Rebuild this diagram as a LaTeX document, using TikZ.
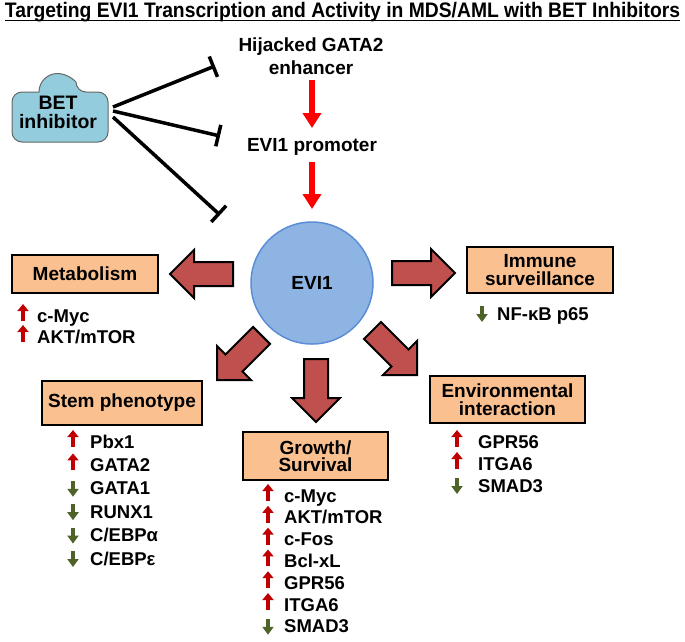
\documentclass[tikz,border=0pt]{standalone}
\usepackage{fontspec}
\setmainfont{Liberation Sans}
\usetikzlibrary{arrows.meta}
\definecolor{boxfill}{HTML}{FAC090}
\definecolor{arrred}{HTML}{C0504D}
\definecolor{evifill}{HTML}{8EB4E3}
\definecolor{evidraw}{HTML}{5B8ED6}
\definecolor{cloudfill}{HTML}{93CDDD}
\definecolor{upred}{HTML}{C00000}
\definecolor{downgreen}{HTML}{4F6228}
\newcommand\geneup[5]{\node[item] (#1) at (#3,-#4) {#5};
  \draw[uparr] (#2,{-(#4)+1}) -- (#2,{-(#4)+18});}
\newcommand\genedown[5]{\node[item] (#1) at (#3,-#4) {#5};
  \draw[downarr] (#2,{-(#4)+14}) -- (#2,{-(#4)-2});}
\begin{document}
\begin{tikzpicture}[x=1pt,y=1pt,
  txt/.style={font=\bfseries\fontsize{19}{23}\selectfont, inner sep=0pt, align=center},
  item/.style={font=\bfseries\fontsize{18.5}{22}\selectfont, inner sep=0pt, anchor=base west},
  catbox/.style={draw=black, line width=2.2pt, fill=boxfill, inner sep=0pt, align=center,
    font=\bfseries\fontsize{19}{17.5}\selectfont},
  redarr/.style={draw=red, line width=6pt, -{Triangle[width=18pt,length=15pt]}},
  inh/.style={line width=3.5pt, -{Bar[width=22pt]}},
  uparr/.style={draw=upred, line width=3.2pt, -{Triangle[width=11pt,length=7pt]}},
  downarr/.style={draw=downgreen, line width=3.2pt, -{Triangle[width=11pt,length=8pt]}},
  bigarrow/.pic={\filldraw[fill=arrred, draw=black, line width=2pt, line join=miter]
    (0,0) -- (-24,24) -- (-24,12) -- (-63,12) -- (-63,-12) -- (-24,-12) -- (-24,-24) -- cycle;}
]
\useasboundingbox (0,0) rectangle (685,-641);

% title
\node[font=\bfseries\fontsize{21}{24}\selectfont, inner sep=0pt, anchor=base] (title) at (342.5,-17)
  {\resizebox{675pt}{\height}{Targeting EVI1 Transcription and Activity in MDS/AML with BET Inhibitors}};
\draw[line width=1.5pt] (title.west |- 0,-20.5) -- (title.east |- 0,-20.5);

% BET inhibitor cloud
\filldraw[fill=cloudfill, draw=black!60, line width=1pt]
  (39,-92) [rounded corners=10] -- (12,-92) -- (12,-142) -- (108,-142) -- (108,-92) -- (76,-92)
  [sharp corners] arc[start angle=0, end angle=180, radius=18.5] -- cycle;
\node[txt, font=\bfseries\fontsize{19.5}{19}\selectfont] (bet) at (58,-112) {BET\\inhibitor};

% pathway
\node[txt] (hij) at (311,-56) {Hijacked GATA2\\enhancer};
\node[txt] (prom) at (312,-147) {EVI1 promoter};
\node[circle, fill=evifill, draw=evidraw, line width=1.5pt, minimum size=122pt, inner sep=0pt,
  font=\bfseries\fontsize{19}{23}\selectfont] (evi) at (312,-283) {EVI1};
\draw[redarr] (prom.north |- 0,-80) -- (prom.north |- 0,-128);
\draw[redarr] (prom.south |- 0,-162) -- (evi.north |- 0,-209);

% inhibition
\coordinate (s1) at (113,-107);
\coordinate (s2) at (113,-111);
\coordinate (s3) at (113,-117);
\coordinate (t1) at (215,-66);
\coordinate (t2) at (220,-136);
\coordinate (t3) at (220,-215);
\draw[inh] (s1) -- (t1);
\draw[inh] (s2) -- (t2);
\draw[inh] (s3) -- (t3);

% category boxes
\node[catbox, minimum width=146pt, minimum height=38pt] (met) at (85,-274) {Metabolism};
\node[catbox, minimum width=146pt, minimum height=46pt] (imm) at (540,-270) {Immune\\surveillance};
\node[catbox, minimum width=160pt, minimum height=44pt] (stem) at (122,-403) {Stem phenotype};
\node[catbox, minimum width=145pt, minimum height=48pt] (grow) at (315.5,-456) {Growth/\\Survival};
\node[catbox, minimum width=155pt, minimum height=47pt] (env) at (507.5,-399.5) {Environmental\\interaction};

% big arrows
\pic[rotate=180] at (170,-274) {bigarrow};
\pic[rotate=0] at (455,-273) {bigarrow};
\pic[rotate=-90] at (316,-422) {bigarrow};
\pic[rotate=-135] at (217,-380) {bigarrow};
\pic[rotate=-45] at (417,-375) {bigarrow};

% gene lists
\geneup{m1}{23}{37}{322}{c-Myc}
\geneup{m2}{23}{37}{343}{AKT/mTOR}
\genedown{n1}{482}{497}{320}{NF-κB p65}

\geneup{sg1}{73}{90}{448}{Pbx1}
\geneup{sg2}{73}{90}{471.4}{GATA2}
\genedown{sg3}{73}{90}{494.8}{GATA1}
\genedown{sg4}{73}{90}{518.2}{RUNX1}
\genedown{sg5}{73}{90}{541.6}{C/EBPα}
\genedown{sg6}{73}{90}{565}{C/EBPε}

\geneup{g1}{268}{284}{502}{c-Myc}
\geneup{g2}{268}{284}{523.8}{AKT/mTOR}
\geneup{g3}{268}{284}{545.6}{c-Fos}
\geneup{g4}{268}{284}{567.4}{Bcl-xL}
\geneup{g5}{268}{284}{589.2}{GPR56}
\geneup{g6}{268}{284}{611}{ITGA6}
\genedown{g7}{268}{284}{632.8}{SMAD3}

\geneup{e1}{457}{478}{448}{GPR56}
\geneup{e2}{457}{478}{470}{ITGA6}
\genedown{e3}{457}{478}{492}{SMAD3}
\end{tikzpicture}
\end{document}
